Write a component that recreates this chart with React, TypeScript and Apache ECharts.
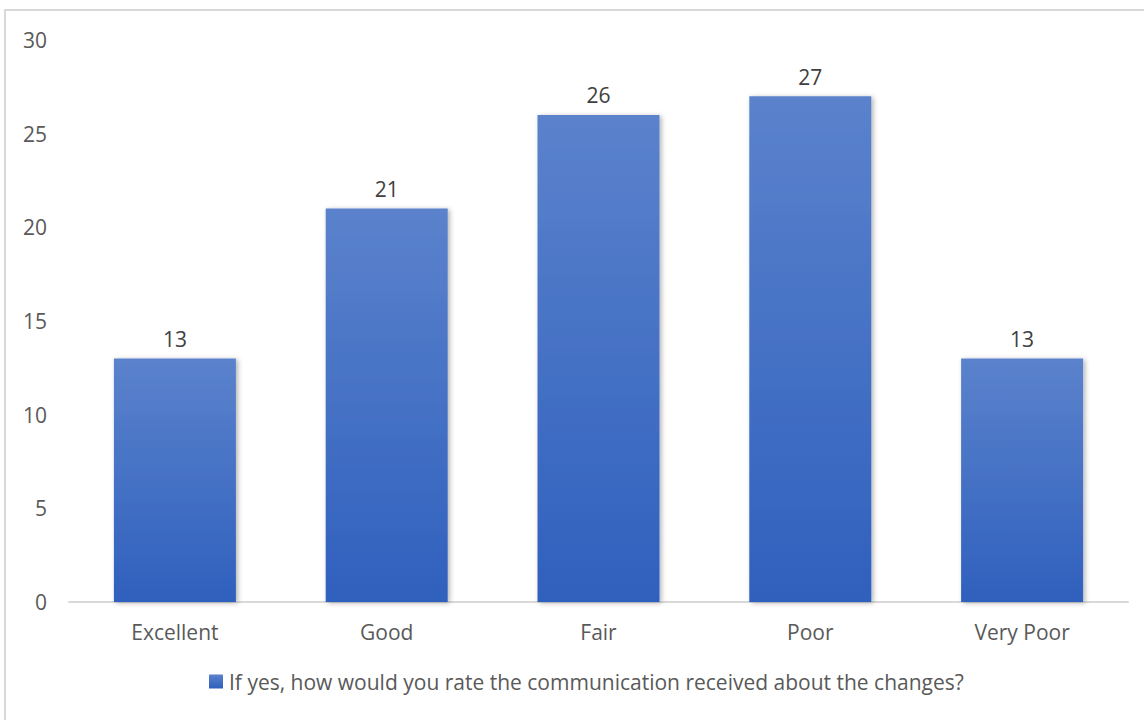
import React, { useEffect, useRef } from "react";
import * as echarts from "echarts";

const categories = ["Excellent", "Good", "Fair", "Poor", "Very Poor"];
const values = [13, 21, 26, 27, 13];
const seriesName = "If yes, how would you rate the communication received about the changes?";
const yMin = 0;
const yMax = 30;
const yInterval = 5;

const FONT = "Open Sans";
const TEXT = "#595959";

export default function App() {
  const ref = useRef<HTMLDivElement>(null);
  useEffect(() => {
    if (!ref.current) return;
    const chart = echarts.init(ref.current, undefined, { renderer: "svg" });
    chart.setOption({
      animation: false,
      backgroundColor: "#ffffff",
      textStyle: { fontFamily: FONT, color: TEXT },
      graphic: [
        {
          type: "rect",
          shape: { x: 5, y: 10, width: 1160, height: 740 },
          style: { fill: "none", stroke: "#d9d9d9", lineWidth: 2 },
          silent: true,
        },
      ],
      grid: { left: 69, right: 16, top: 40, bottom: 118, containLabel: false },
      legend: {
        bottom: 23,
        left: 204,
        itemWidth: 14,
        itemHeight: 14,
        itemGap: 10,
        icon: "rect",
        textStyle: { fontFamily: FONT, fontSize: 21, color: TEXT, padding: [0, 0, 0, 1] },
        data: [seriesName],
      },
      xAxis: {
        type: "category",
        data: categories,
        axisLine: { lineStyle: { color: "#d9d9d9", width: 2 } },
        axisTick: { show: false },
        axisLabel: { fontFamily: FONT, fontSize: 21, color: TEXT, margin: 19 },
        splitLine: { show: false },
      },
      yAxis: {
        type: "value",
        min: yMin,
        max: yMax,
        interval: yInterval,
        axisLine: { show: false },
        axisTick: { show: false },
        splitLine: { show: false },
        axisLabel: { fontFamily: FONT, fontSize: 21, color: TEXT, margin: 22 },
      },
      series: [
        {
          name: seriesName,
          type: "bar",
          data: values,
          barWidth: "57.6%",
          itemStyle: {
            color: new echarts.graphic.LinearGradient(0, 0, 0, 1, [
              { offset: 0, color: "#5b82cc" },
              { offset: 1, color: "#2f60bd" },
            ]),
            shadowBlur: 5,
            shadowColor: "rgba(0,0,0,0.3)",
            shadowOffsetX: 2,
            shadowOffsetY: 1,
          },
          label: {
            show: true,
            position: "top",
            distance: 9,
            fontFamily: FONT,
            fontSize: 21,
            color: "#404040",
          },
        },
      ],
    });
    return () => chart.dispose();
  }, []);
  return (
    <div
      ref={ref}
      style={{ position: "fixed", left: 0, top: 0, width: 1144, height: 720 }}
    />
  );
}
